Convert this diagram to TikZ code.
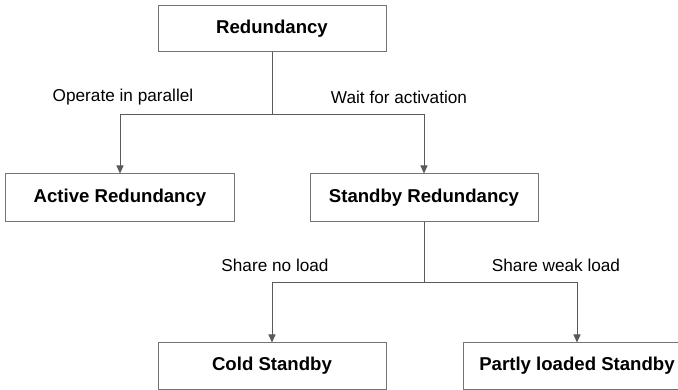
\documentclass[tikz,border=0pt]{standalone}
\usepackage{fontspec}
\setmainfont{Liberation Sans}
\usetikzlibrary{arrows.meta}
\begin{document}
\begin{tikzpicture}[x=1pt,y=-1pt]

          \tikzstyle{box} = [draw=black!55, line width=1pt, minimum width=228pt, minimum height=46pt, font=\fontsize{18.6}{20}\selectfont\bfseries];
          \tikzstyle{lbl} = [font=\fontsize{17.2}{19}\selectfont];
          \tikzstyle{link} = [draw=black!65, line width=0.9pt];

          \useasboundingbox (0,0) rectangle (678,390);

          \node[box] (r) at (272,29) {Redundancy};
          \node[box, minimum width=229pt, minimum height=48pt] (a) at (120,198) {Active Redundancy};
          \node[box, minimum height=48pt] (s) at (424,198) {Standby Redundancy};
          \node[box] (c) at (272,366) {Cold Standby};
          \node[box] (p) at (577,366) {Partly loaded Standby};

          \coordinate (j1) at (272,114);
          \coordinate (j2) at (424,282);

          \node[lbl] (op) at (123,97) {Operate in parallel};
          \node[lbl] (wa) at (399,97) {Wait for activation};
          \node[lbl] (sn) at (275,265) {Share no load};
          \node[lbl] (sw) at (556,265) {Share weak load};

          \draw[link] (r) -- (j1);
          \draw[link, -{Triangle[width=7pt,length=8pt]}] (j1) -| (a);
          \draw[link, -{Triangle[width=7pt,length=8pt]}] (j1) -| (s);
          \draw[link] (s) -- (j2);
          \draw[link, -{Triangle[width=7pt,length=8pt]}] (j2) -| (c);
          \draw[link, -{Triangle[width=7pt,length=8pt]}] (j2) -| (p);
        \end{tikzpicture}
\end{document}
